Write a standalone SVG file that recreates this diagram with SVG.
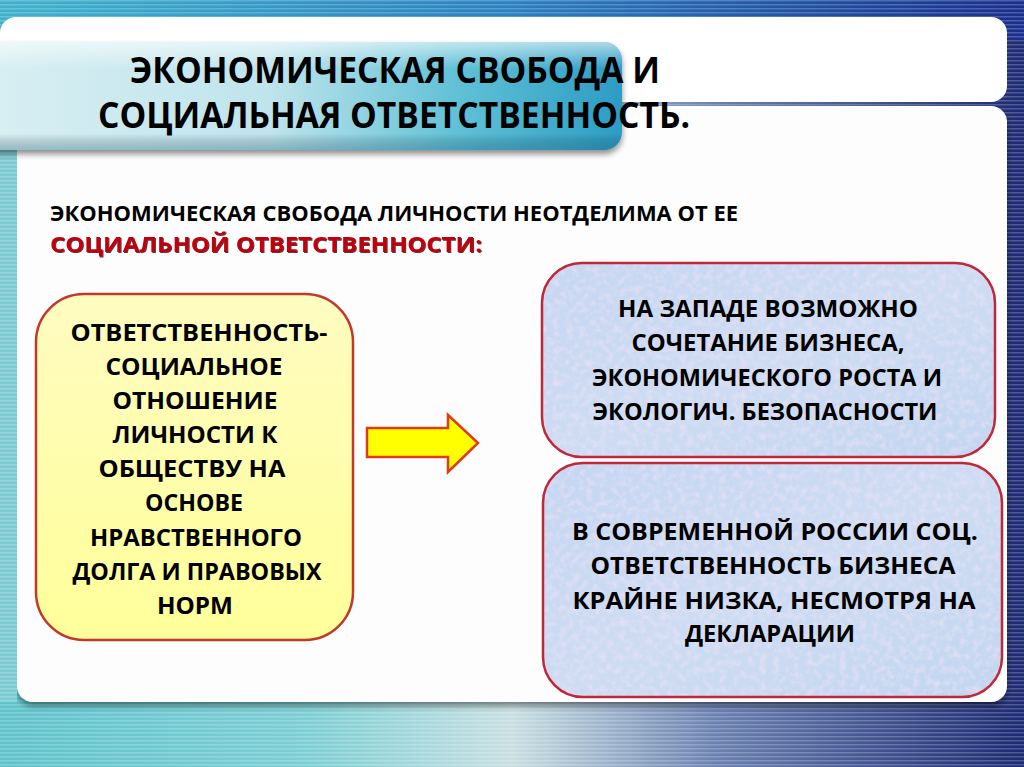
<svg xmlns="http://www.w3.org/2000/svg" width="1024" height="767" viewBox="0 0 1024 767">
<defs>
<linearGradient id="bgH" x1="0" y1="0" x2="1" y2="0">
<stop offset="0" stop-color="#5fc3cc"/>
<stop offset="0.3" stop-color="#7ccfd4"/>
<stop offset="0.5" stop-color="#c9dfe2"/>
<stop offset="0.7" stop-color="#6a80b0"/>
<stop offset="1" stop-color="#1c2a72"/>
</linearGradient>
<linearGradient id="bgTop" x1="0" y1="0" x2="1" y2="0">
<stop offset="0" stop-color="#3fb2cc"/>
<stop offset="0.5" stop-color="#2a80c0"/>
<stop offset="1" stop-color="#1a2d8c"/>
</linearGradient>
<pattern id="stripes" width="4" height="4" patternUnits="userSpaceOnUse">
<rect width="4" height="1.5" fill="#ffffff" opacity="0.22"/>
</pattern>
<linearGradient id="titleG" x1="0" y1="0" x2="1" y2="0">
<stop offset="0" stop-color="#d9eff3"/>
<stop offset="0.45" stop-color="#bfe4ec"/>
<stop offset="0.75" stop-color="#5ec0d6"/>
<stop offset="1" stop-color="#2d9cc4"/>
</linearGradient>
<linearGradient id="titleV" x1="0" y1="0" x2="0" y2="1">
<stop offset="0" stop-color="#ffffff" stop-opacity="0.6"/>
<stop offset="0.25" stop-color="#ffffff" stop-opacity="0"/>
<stop offset="0.85" stop-color="#000000" stop-opacity="0"/>
<stop offset="1" stop-color="#1a6080" stop-opacity="0.35"/>
</linearGradient>
<linearGradient id="yellowG" x1="0" y1="0" x2="0" y2="1">
<stop offset="0" stop-color="#fffcc0"/>
<stop offset="1" stop-color="#ffff9a"/>
</linearGradient>
<linearGradient id="blueG" x1="0" y1="0" x2="1" y2="1">
<stop offset="0" stop-color="#c5d6f2"/>
<stop offset="0.5" stop-color="#cddcf3"/>
<stop offset="1" stop-color="#c2d6f0"/>
</linearGradient>
<filter id="noise" x="0" y="0" width="100%" height="100%">
<feTurbulence type="fractalNoise" baseFrequency="0.15" numOctaves="3" seed="5" result="n"/>
<feColorMatrix in="n" type="matrix" values="0 0 0 0 0.9  0 0 0 0 0.78  0 0 0 0 0.93  0 0 0 1.2 -0.5" result="p"/>
<feComposite in="p" in2="SourceGraphic" operator="in" result="pc"/>
<feMerge><feMergeNode in="SourceGraphic"/><feMergeNode in="pc"/></feMerge>
</filter>
<filter id="shadow" x="-10%" y="-10%" width="120%" height="130%">
<feGaussianBlur in="SourceAlpha" stdDeviation="3"/>
<feOffset dx="0" dy="4"/>
<feComponentTransfer><feFuncA type="linear" slope="0.45"/></feComponentTransfer>
<feMerge><feMergeNode/><feMergeNode in="SourceGraphic"/></feMerge>
</filter>
<filter id="txtsh" x="-5%" y="-20%" width="110%" height="140%">
<feOffset in="SourceAlpha" dx="1" dy="1" result="o"/>
<feFlood flood-color="#400000" flood-opacity="0.8"/>
<feComposite in2="o" operator="in"/>
<feMerge><feMergeNode/><feMergeNode in="SourceGraphic"/></feMerge>
</filter>
<style>
.t{font-family:"Open Sans","DejaVu Sans",sans-serif;font-weight:700;fill:#000;}
.title{font-size:35px;}
.sub{font-size:22px;}
.red{fill:#c00010;}
.bx{font-size:23px;text-anchor:middle;}
.ybox{fill:url(#yellowG);stroke:#c0392b;stroke-width:2.5;}
.bfill{fill:url(#blueG);}
.bstroke{fill:none;stroke:#c0283a;stroke-width:2.5;}
</style>
</defs>

<!-- background -->
<rect x="0" y="0" width="1024" height="767" fill="url(#bgH)"/>
<rect x="0" y="0" width="1024" height="40" fill="url(#bgTop)"/>
<rect x="0" y="0" width="1024" height="767" fill="url(#stripes)"/>

<!-- white panels -->
<rect x="0" y="17" width="1007" height="85" rx="16" fill="#ffffff"/>
<rect x="17" y="106" width="990" height="596" rx="16" fill="#fdfdfd" filter="url(#shadow)"/>
<rect x="0" y="106" width="17" height="596" fill="#7ccbd2"/>
<rect x="0" y="106" width="17" height="596" fill="url(#stripes)"/>

<!-- title box -->
<g id="title">
<rect x="-20" y="42" width="642" height="108" rx="18" fill="url(#titleG)" filter="url(#shadow)"/>
<rect x="-20" y="42" width="642" height="108" rx="18" fill="url(#titleV)"/>
<text class="t title" x="130" y="83" textLength="530" lengthAdjust="spacingAndGlyphs">ЭКОНОМИЧЕСКАЯ СВОБОДА И</text>
<text class="t title" x="98" y="128" textLength="592" lengthAdjust="spacingAndGlyphs">СОЦИАЛЬНАЯ ОТВЕТСТВЕННОСТЬ.</text>
</g>

<g id="subtitle">
<text class="t sub" x="50" y="221" textLength="688" lengthAdjust="spacingAndGlyphs">ЭКОНОМИЧЕСКАЯ СВОБОДА ЛИЧНОСТИ НЕОТДЕЛИМА  ОТ ЕЕ</text>
<text class="t sub red" x="50" y="252" textLength="432" lengthAdjust="spacingAndGlyphs" filter="url(#txtsh)">СОЦИАЛЬНОЙ ОТВЕТСТВЕННОСТИ:</text>
</g>

<g id="node-left">
<rect class="ybox" x="36" y="294" width="317" height="346" rx="48"/>
<text class="t bx" x="199" y="341" textLength="257" lengthAdjust="spacingAndGlyphs">ОТВЕТСТВЕННОСТЬ-</text>
<text class="t bx" x="194" y="375" textLength="177" lengthAdjust="spacingAndGlyphs">СОЦИАЛЬНОЕ</text>
<text class="t bx" x="195" y="409" textLength="165" lengthAdjust="spacingAndGlyphs">ОТНОШЕНИЕ</text>
<text class="t bx" x="195" y="443" textLength="165" lengthAdjust="spacingAndGlyphs">ЛИЧНОСТИ К</text>
<text class="t bx" x="192" y="477" textLength="187" lengthAdjust="spacingAndGlyphs">ОБЩЕСТВУ НА</text>
<text class="t bx" x="194" y="511" textLength="98" lengthAdjust="spacingAndGlyphs">ОСНОВЕ</text>
<text class="t bx" x="196" y="546" textLength="212" lengthAdjust="spacingAndGlyphs">НРАВСТВЕННОГО</text>
<text class="t bx" x="197" y="580" textLength="249" lengthAdjust="spacingAndGlyphs">ДОЛГА И  ПРАВОВЫХ</text>
<text class="t bx" x="195" y="614" textLength="76" lengthAdjust="spacingAndGlyphs">НОРМ</text>
</g>

<g id="connectors">
<path d="M367,428 L448,428 L448,415 L478,443 L448,472 L448,457 L367,457 Z" fill="#ffff00" stroke="#e03a1a" stroke-width="2.5" stroke-linejoin="miter"/>
</g>

<g id="node-west">
<rect class="bfill" x="542" y="263" width="453" height="194" rx="40" filter="url(#noise)"/>
<rect class="bstroke" x="542" y="263" width="453" height="194" rx="40"/>
<text class="t bx" x="768" y="317" textLength="300" lengthAdjust="spacingAndGlyphs">НА  ЗАПАДЕ ВОЗМОЖНО</text>
<text class="t bx" x="768" y="351" textLength="273" lengthAdjust="spacingAndGlyphs">СОЧЕТАНИЕ БИЗНЕСА,</text>
<text class="t bx" x="767" y="386" textLength="350" lengthAdjust="spacingAndGlyphs">ЭКОНОМИЧЕСКОГО РОСТА И</text>
<text class="t bx" x="765" y="420" textLength="345" lengthAdjust="spacingAndGlyphs">ЭКОЛОГИЧ. БЕЗОПАСНОСТИ</text>
</g>

<g id="node-russia">
<rect class="bfill" x="543" y="463" width="459" height="234" rx="40" filter="url(#noise)"/>
<rect class="bstroke" x="543" y="463" width="459" height="234" rx="40"/>
<text class="t bx" x="775" y="540" textLength="406" lengthAdjust="spacingAndGlyphs">В СОВРЕМЕННОЙ  РОССИИ  СОЦ.</text>
<text class="t bx" x="773" y="574" textLength="365" lengthAdjust="spacingAndGlyphs">ОТВЕТСТВЕННОСТЬ  БИЗНЕСА</text>
<text class="t bx" x="774" y="609" textLength="403" lengthAdjust="spacingAndGlyphs">КРАЙНЕ  НИЗКА,  НЕСМОТРЯ  НА</text>
<text class="t bx" x="770" y="642" textLength="170" lengthAdjust="spacingAndGlyphs">ДЕКЛАРАЦИИ</text>
</g>
</svg>
